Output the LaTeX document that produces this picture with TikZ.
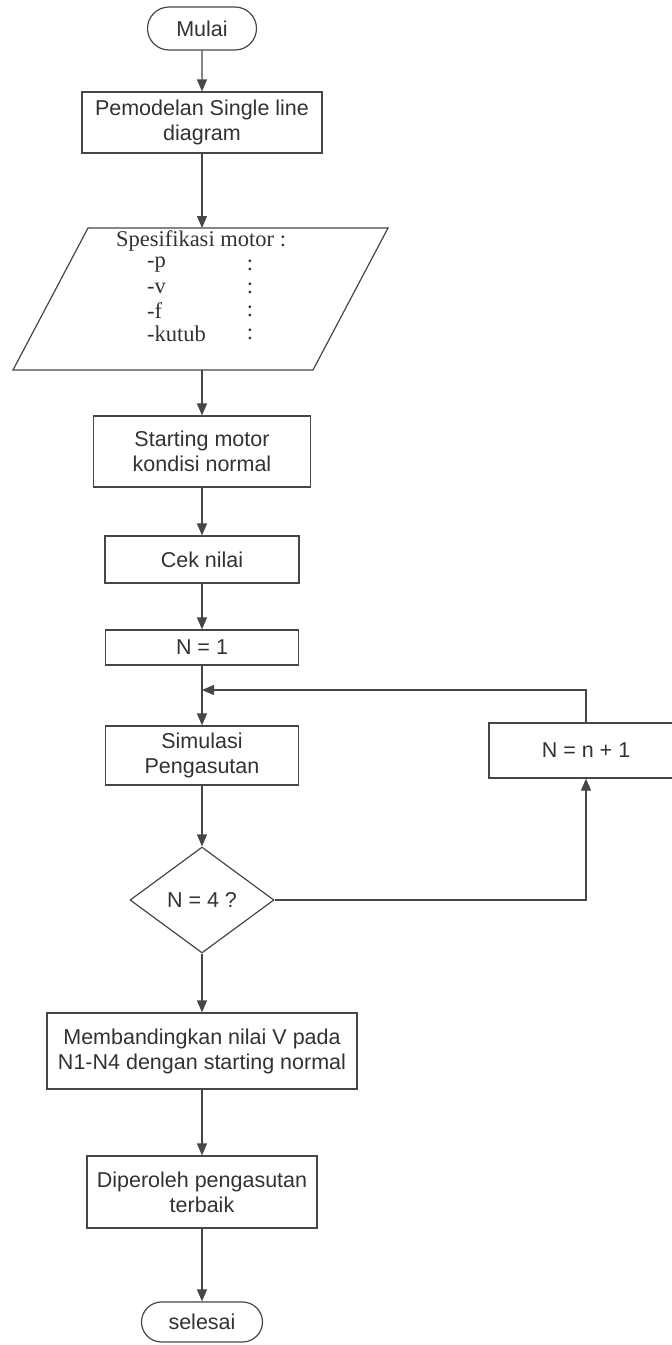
\documentclass[tikz,border=0pt]{standalone}
\usepackage{fontspec}
\setmainfont{Liberation Sans}
\newfontfamily\serifx{Liberation Serif}
\usetikzlibrary{shapes.geometric,shapes.misc,arrows.meta}
\definecolor{ink}{RGB}{70,70,70}
\definecolor{txt}{RGB}{50,50,50}
\begin{document}
\begin{tikzpicture}[x=1pt,y=-1pt,
  every node/.style={font=\fontsize{21.5}{25}\selectfont, text=txt},
  box/.style={draw=ink, line width=1.2pt, rectangle, inner sep=0pt, align=center},
  term/.style={draw=ink, line width=1.2pt, rounded rectangle, inner sep=0pt},
  decision/.style={draw=ink, line width=1.2pt, diamond, inner sep=0pt},
  spec/.style={font=\serifx\fontsize{22.5}{25}\selectfont, inner sep=0pt},
  arr/.style={draw=ink, line width=1.2pt, -{Triangle[length=12pt,width=10pt]}},
  ln/.style={draw=ink, line width=1.2pt}]
\useasboundingbox (0,0) rectangle (672,1345);

\node[term, minimum width=109pt, minimum height=43pt] (start) at (202,28.5) {Mulai};
\node[box, minimum width=240pt, minimum height=61pt] (model) at (202,122.5) {Pemodelan Single line\\diagram};

% parallelogram (input)
\draw[ln] (88,228) -- (388,228) -- (313,370) -- (13,370) -- cycle;
\coordinate (spectop) at (202,228);
\coordinate (specbot) at (202,370);
\node[spec] (s0) at (201,241) {Spesifikasi motor :};
\node[spec, anchor=west] (s1) at (147,265) {-p};
\node[spec, anchor=west] (s2) at (147,288) {-v};
\node[spec, anchor=west] (s3) at (147,311) {-f};
\node[spec, anchor=west] (s4) at (147,334) {-kutub};
\node[spec] (c1) at (250,265) {:};
\node[spec] (c2) at (250,288) {:};
\node[spec] (c3) at (250,311) {:};
\node[spec] (c4) at (250,334) {:};

\node[box, minimum width=217pt, minimum height=71pt] (smotor) at (202,451.5) {Starting motor\\kondisi normal};
\node[box, minimum width=194pt, minimum height=47pt] (cek) at (202,559.5) {Cek nilai};
\node[box, minimum width=193pt, minimum height=35pt] (n1) at (202,647.5) {N = 1};
\node[box, minimum width=193pt, minimum height=59pt] (sim) at (202,755.5) {Simulasi\\Pengasutan};
\node[decision, minimum width=144pt, minimum height=106pt] (dec) at (202,900) {N = 4 ?};
\node[box, minimum width=194pt, minimum height=55pt] (inc) at (586,750.5) {N = n + 1};
\node[box, minimum width=310pt, minimum height=76pt] (cmp) at (202,1051) {Membandingkan nilai V pada\\N1-N4 dengan starting normal};
\node[box, minimum width=230pt, minimum height=72pt] (best) at (202,1192) {Diperoleh pengasutan\\terbaik};
\node[term, minimum width=121pt, minimum height=40pt] (stop) at (202,1322) {selesai};

\coordinate (join) at (202,690);

\draw[arr] (start) -- (model);
\draw[arr] (model) -- (spectop);
\draw[arr] (specbot) -- (smotor);
\draw[arr] (smotor) -- (cek);
\draw[arr] (cek) -- (n1);
\draw[arr] (n1) -- (sim);
\draw[arr] (sim) -- (dec);
\draw[arr] (dec.east) -| (inc.south);
\draw[arr] (inc.north) |- (join);
\draw[arr] (dec) -- (cmp);
\draw[arr] (cmp) -- (best);
\draw[arr] (best) -- (stop);
\end{tikzpicture}
\end{document}
